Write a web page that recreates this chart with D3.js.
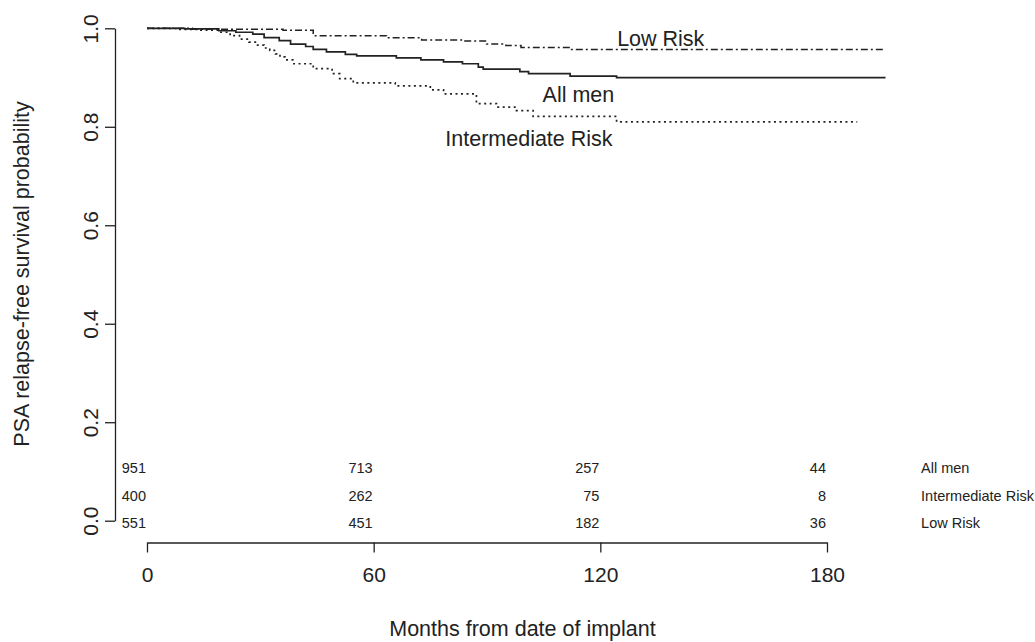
<!DOCTYPE html>
<html><head><meta charset="utf-8">
<script src="https://cdn.jsdelivr.net/npm/d3@7/dist/d3.min.js"></script>
<style>
html,body{margin:0;padding:0;background:#fff;}
svg{display:block;font-family:"Liberation Sans",Arial,sans-serif;}
</style></head>
<body>
<svg id="chart" width="1035" height="642"></svg>
<script>
// Kaplan-Meier step data: [month, survival probability]
const allMen = [[0,1],[10,0.999],[19,0.995],[23.5,0.992],[28,0.988],[31,0.981],[35,0.975],[38,0.968],[42,0.963],[44,0.957],[47.5,0.952],[52.5,0.947],[55.5,0.944],[66,0.940],[72.5,0.936],[78.5,0.932],[83.5,0.928],[87.7,0.921],[89,0.917],[98.7,0.912],[101,0.908],[112,0.903],[124.3,0.900],[195.5,0.900]];
const intermediate = [[0,1],[8,0.998],[14,0.996],[19,0.992],[22,0.985],[24.5,0.978],[27,0.972],[29,0.966],[31,0.960],[32.5,0.955],[34,0.948],[35.2,0.942],[36.5,0.936],[38.6,0.928],[44,0.918],[49,0.908],[51,0.898],[54.6,0.889],[65.7,0.883],[75,0.875],[78.5,0.867],[87.2,0.847],[92.5,0.840],[97.8,0.833],[102.2,0.821],[124.3,0.810],[188,0.810]];
const lowRisk = [[0,1],[12,0.998],[36,0.996],[44,0.985],[63.4,0.981],[72.7,0.976],[83.7,0.974],[89.9,0.968],[95,0.965],[99,0.961],[112,0.957],[195,0.957]];

const xTicks = [0,60,120,180];
const yTicks = [0,0.2,0.4,0.6,0.8,1.0];

const riskGroups = ["All men","Intermediate Risk","Low Risk"];
const riskTimes = [0,60,120,180];
const riskCounts = [[951,713,257,44],[400,262,75,8],[551,451,182,36]];
const riskRowY = [0.107,0.050,-0.005];

const curveLabels = ["Low Risk","All men","Intermediate Risk"];
const curveLabelPos = [[136,0.979],[114.2,0.8645],[101.1,0.776]];

const xTitle = "Months from date of implant";
const yTitle = "PSA relapse-free survival probability";

const ink = "#222";
const svg = d3.select("#chart");
const x = d3.scaleLinear().domain([0,180]).range([147,827]);
const y = d3.scaleLinear().domain([0,1]).range([520.7,28.3]);

// y axis
const yAxis = svg.append("g").attr("transform","translate(115,0)")
  .call(d3.axisLeft(y).tickValues(yTicks).tickFormat(d3.format(".1f")).tickSize(10).tickSizeOuter(0));
yAxis.selectAll("path,line").attr("stroke",ink).attr("stroke-width",1.3);
yAxis.selectAll("text").attr("x",0).attr("dy",0).attr("text-anchor","middle")
  .attr("transform","translate(-17,0) rotate(-90)")
  .style("font-size","21px").style("font-family","Liberation Sans, Arial, sans-serif").attr("fill",ink);

// x axis
const xAxis = svg.append("g").attr("transform","translate(0,542.5)")
  .call(d3.axisBottom(x).tickValues(xTicks).tickSize(10).tickSizeOuter(0));
xAxis.selectAll("path,line").attr("stroke",ink).attr("stroke-width",1.3);
xAxis.selectAll("text").attr("y",39.5).attr("dy",0)
  .style("font-size","21px").style("font-family","Liberation Sans, Arial, sans-serif").attr("fill",ink);

// titles
svg.append("text").attr("x",522.5).attr("y",636).attr("text-anchor","middle")
  .style("font-size","21.5px").attr("fill",ink).text(xTitle);
svg.append("text").attr("transform","translate(29,274) rotate(-90)").attr("text-anchor","middle")
  .style("font-size","21.5px").attr("fill",ink).text(yTitle);

// curves
const line = d3.line().x(d=>x(d[0])).y(d=>y(d[1])).curve(d3.curveStepAfter);
const series = [
  {data: allMen, dash: null, w: 1.7},
  {data: intermediate, dash: "2,3.5", w: 1.7},
  {data: lowRisk, dash: "7,3,2,3", w: 1.5}
];
svg.append("g").selectAll("path").data(series).join("path")
  .attr("d", d=>line(d.data)).attr("fill","none").attr("stroke",ink)
  .attr("stroke-width", d=>d.w).attr("stroke-dasharray", d=>d.dash);

// curve labels
svg.append("g").selectAll("text").data(curveLabels).join("text")
  .attr("x",(d,i)=>x(curveLabelPos[i][0])).attr("y",(d,i)=>y(curveLabelPos[i][1]))
  .attr("text-anchor","middle").attr("dominant-baseline","central")
  .style("font-size","21.5px").attr("fill",ink).text(d=>d);

// number at risk table
const tbl = svg.append("g");
riskCounts.forEach((row,r)=>{
  tbl.append("g").selectAll("text").data(row).join("text")
    .attr("x",(d,i)=>x(riskTimes[i])-1).attr("y",y(riskRowY[r]))
    .attr("text-anchor","end").attr("dominant-baseline","central")
    .style("font-size","14.5px").attr("fill",ink).text(d=>d);
  tbl.append("text").attr("x",x(204.9)).attr("y",y(riskRowY[r]))
    .attr("dominant-baseline","central")
    .style("font-size","14.5px").attr("fill",ink).text(riskGroups[r]);
});
</script>
</body></html>
